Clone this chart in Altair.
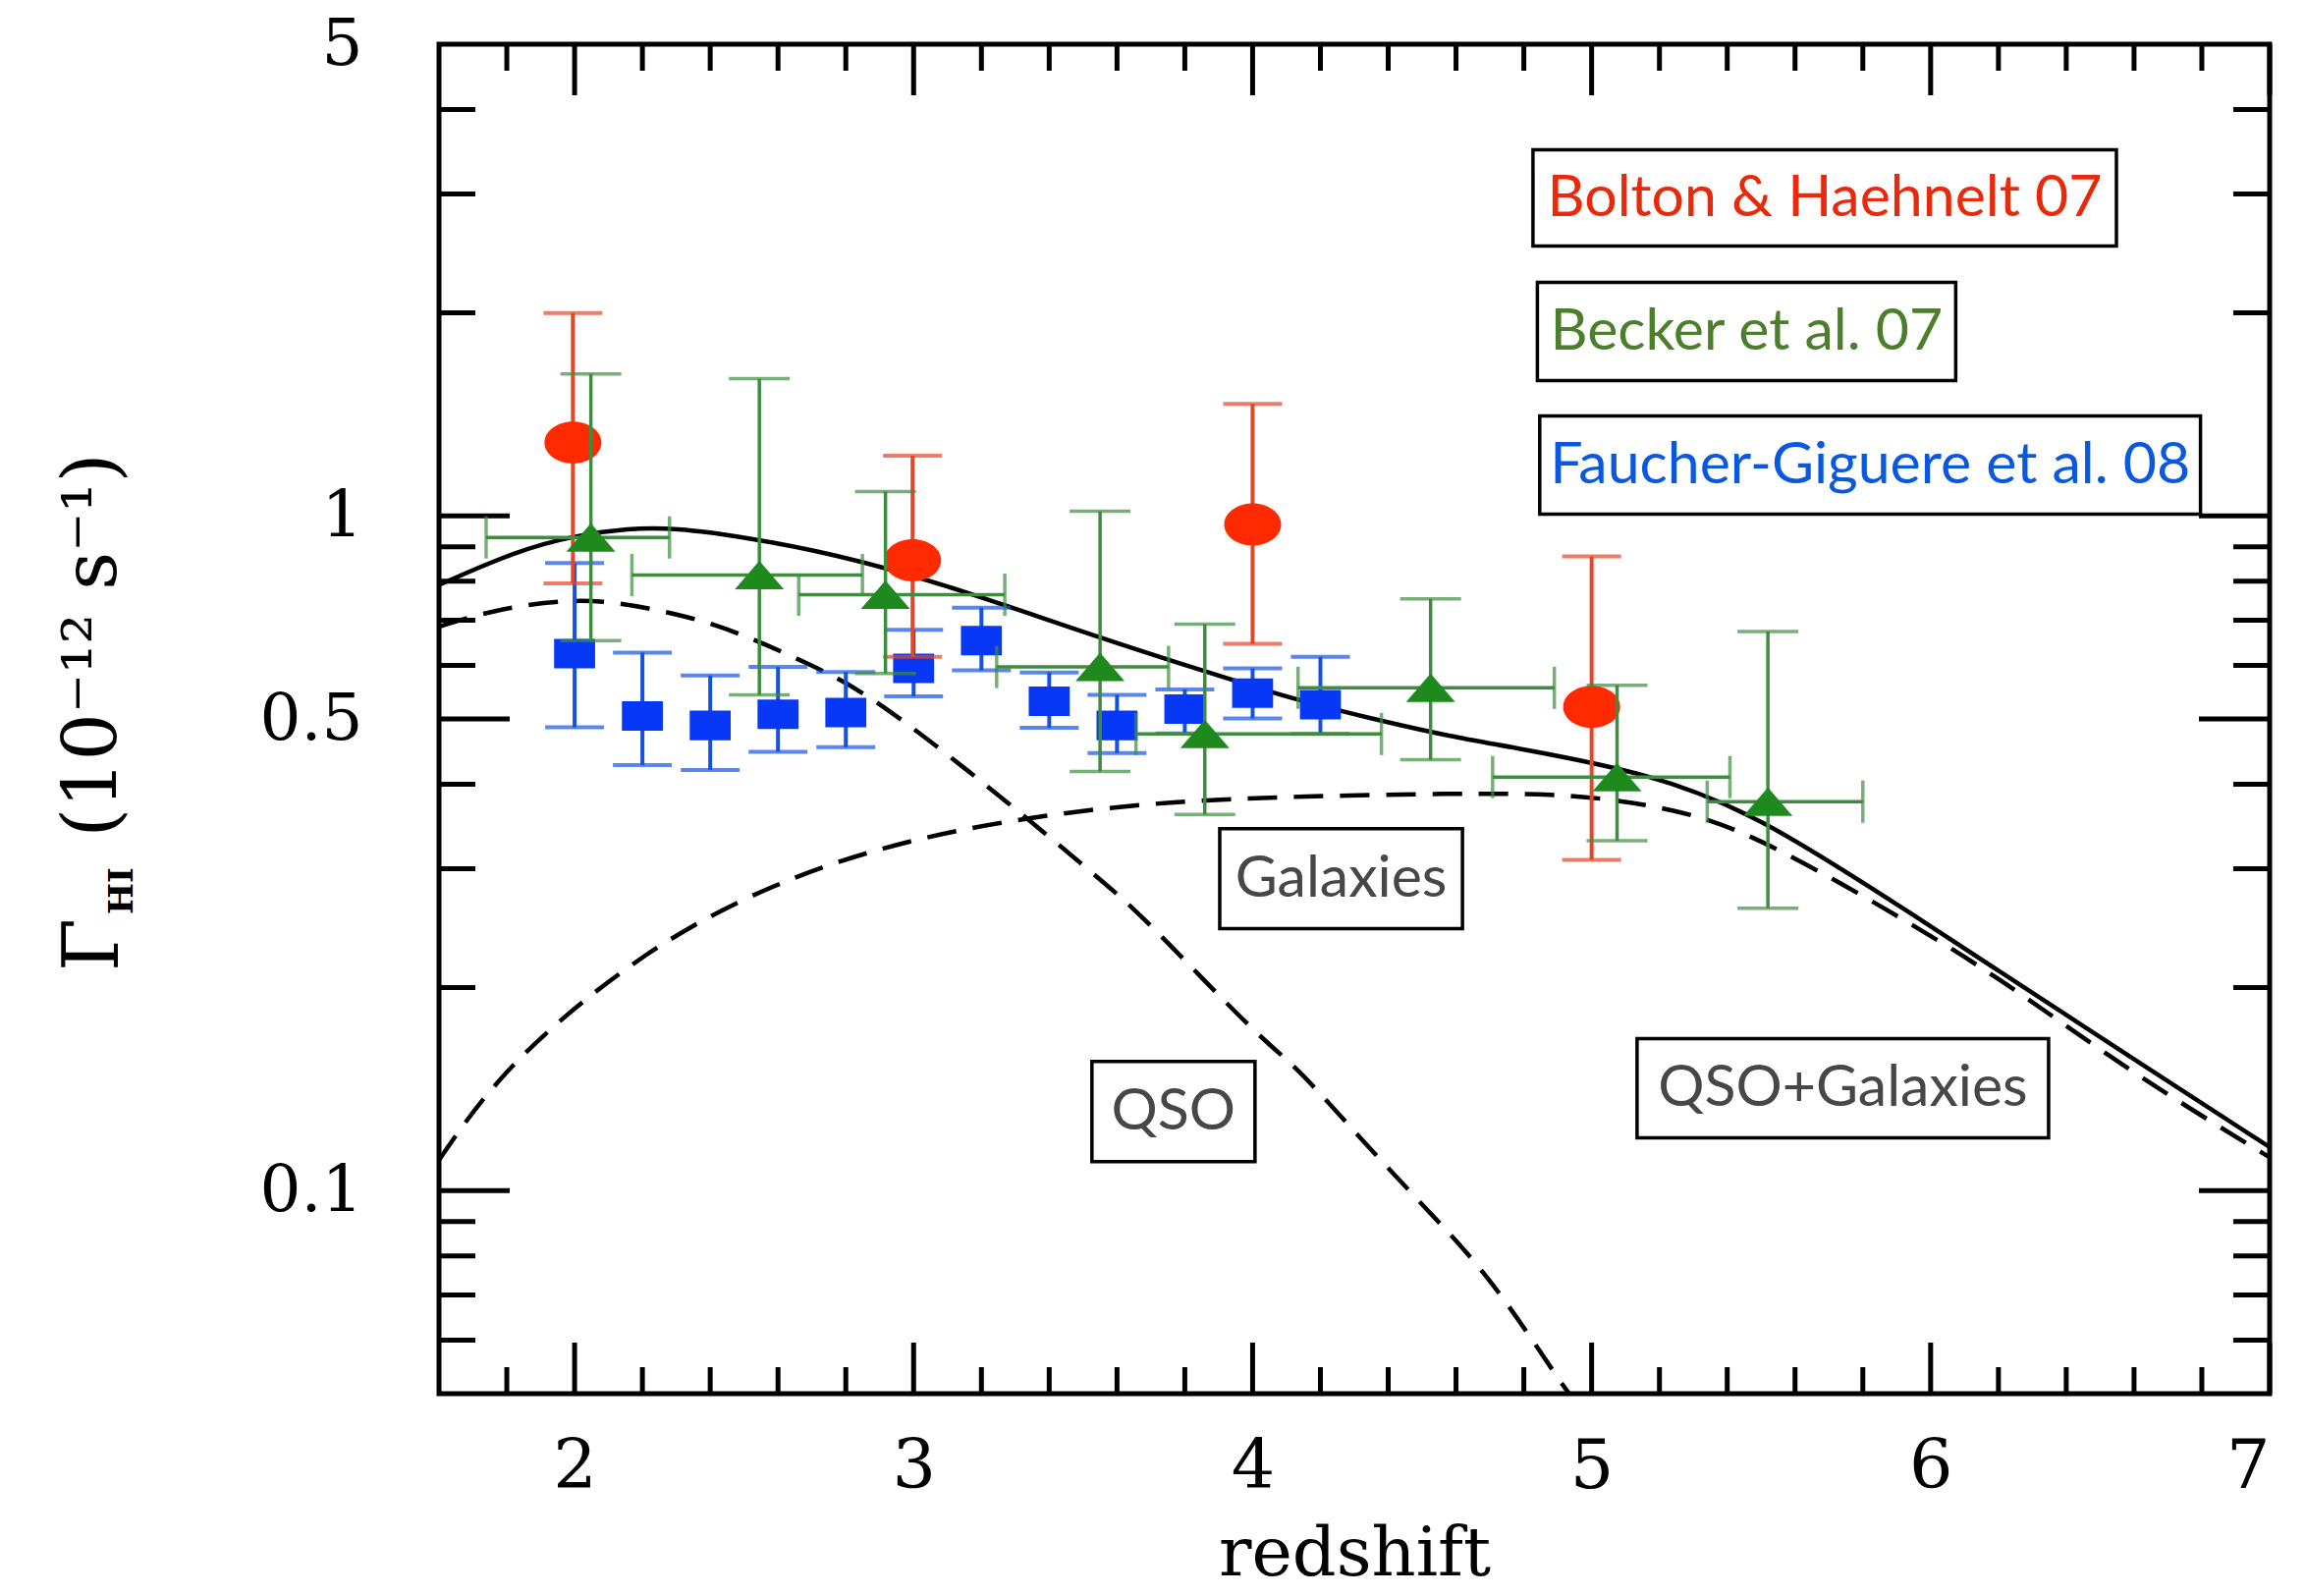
import altair as alt
import pandas as pd

# ---------------- data ----------------
# Bolton & Haehnelt 07 (red circles)
bh_z = [1.995, 2.997, 4.0, 5.0]
bh_g = [1.284, 0.859, 0.971, 0.521]
bh_lo = [0.794, 0.618, 0.646, 0.309]
bh_hi = [1.997, 1.228, 1.465, 0.871]

# Becker et al. 07 (green triangles)
bk_z = [2.048, 2.545, 2.917, 3.55, 3.859, 4.525, 5.075, 5.52]
bk_g = [0.929, 0.817, 0.764, 0.597, 0.475, 0.556, 0.410, 0.377]
bk_lo = [0.653, 0.543, 0.584, 0.418, 0.361, 0.435, 0.330, 0.262]
bk_hi = [1.623, 1.597, 1.086, 1.016, 0.691, 0.753, 0.561, 0.674]
bk_zlo = [1.739, 2.169, 2.661, 3.245, 3.656, 4.134, 4.708, 5.341]
bk_zhi = [2.28, 2.849, 3.269, 3.752, 4.38, 4.89, 5.408, 5.8]

# Faucher-Giguere et al. 08 (blue squares)
fg_z = [2.0, 2.2, 2.4, 2.6, 2.8, 3.0, 3.2, 3.4, 3.6, 3.8, 4.0, 4.2]
fg_g = [0.625, 0.505, 0.489, 0.508, 0.511, 0.594, 0.653, 0.531, 0.489, 0.517, 0.546, 0.525]
fg_lo = [0.486, 0.427, 0.420, 0.447, 0.454, 0.540, 0.590, 0.485, 0.445, 0.476, 0.501, 0.475]
fg_hi = [0.851, 0.627, 0.580, 0.597, 0.587, 0.678, 0.731, 0.586, 0.543, 0.553, 0.594, 0.618]

# model curves
tot_z = [1.6, 1.831, 2.0, 2.159, 2.294, 2.507, 2.757, 3.086, 3.496, 3.859, 4.013, 4.148,
         4.361, 4.592, 4.746, 5.181, 5.491, 5.867, 6.681, 7.0]
tot_g = [0.79, 0.888, 0.935, 0.958, 0.960, 0.929, 0.880, 0.794, 0.673, 0.588, 0.556, 0.531,
         0.499, 0.470, 0.456, 0.415, 0.359, 0.273, 0.147, 0.116]

qso_z = [1.6, 1.762, 1.965, 2.121, 2.333, 2.48, 2.7, 2.892, 3.328, 3.569, 3.68,
         4.021, 4.123, 4.314, 4.53, 4.703, 4.918, 4.935]
qso_g = [0.685, 0.726, 0.751, 0.747, 0.710, 0.673, 0.601, 0.537, 0.359, 0.284, 0.254,
         0.168, 0.154, 0.120, 0.0919, 0.0743, 0.0511, 0.05]

gal_z = [1.6, 1.796, 2.203, 2.572, 2.942, 3.348, 3.762, 4.148, 4.592, 4.9, 5.075, 5.23,
         5.452, 5.867, 6.197, 6.586, 7.0]
gal_g = [0.111, 0.154, 0.227, 0.284, 0.328, 0.359, 0.378, 0.384, 0.388, 0.387, 0.379, 0.368,
         0.343, 0.262, 0.208, 0.150, 0.112]

# axis ticks
x_major = [2, 3, 4, 5, 6, 7]
x_minor = [1.8, 2.2, 2.4, 2.6, 2.8, 3.2, 3.4, 3.6, 3.8, 4.2, 4.4, 4.6, 4.8,
           5.2, 5.4, 5.6, 5.8, 6.2, 6.4, 6.6, 6.8]
y_labels = [0.1, 0.5, 1, 5]
y_major = [0.1, 0.5, 1]
y_minor = [0.06, 0.07, 0.08, 0.09, 0.2, 0.3, 0.4, 0.6, 0.7, 0.8, 0.9, 2, 3, 4]

# annotation boxes (data coordinates) and their texts
box_text = ["Bolton & Haehnelt 07", "Becker et al. 07", "Faucher-Giguere et al. 08",
            "Galaxies", "QSO", "QSO+Galaxies"]
box_z1 = [4.827, 4.840, 4.847, 3.903, 3.526, 5.134]
box_z2 = [6.548, 6.074, 6.796, 4.619, 4.007, 6.348]
box_g1 = [2.510, 1.586, 1.0054, 0.2444, 0.1104, 0.1197]
box_g2 = [3.487, 2.218, 1.406, 0.3439, 0.1554, 0.1679]
box_color = ["#E8290B", "#4C7E2C", "#0A58DE", "#474747", "#474747", "#474747"]

# ---------------- chart ----------------
W, H = 1864, 1374
SERIF = "DejaVu Serif"
SANS = "Lato"

xs = alt.Scale(domain=[1.6, 7.0], nice=False, zero=False)
ys = alt.Scale(type="log", domain=[0.05, 5], nice=False)
xaxis = alt.Axis(values=x_major, format="d", grid=False, ticks=False, domain=False,
                 labelFont=SERIF, labelFontSize=70, labelColor="black",
                 labelPadding=40, titleFont=SERIF, titleFontSize=70,
                 titleFontWeight="normal", titleColor="black", titlePadding=20)
yaxis = alt.Axis(values=y_labels, format="~g", grid=False, ticks=False, domain=False,
                 labelFont=SERIF, labelFontSize=66, labelColor="black",
                 labelPadding=78, labelFlush=False)

X = lambda f="z": alt.X(f"{f}:Q", scale=xs, axis=xaxis, title="redshift")
Y = lambda f="g": alt.Y(f"{f}:Q", scale=ys, axis=yaxis, title=None)

bh = pd.DataFrame(dict(z=bh_z, g=bh_g, lo=bh_lo, hi=bh_hi))
bk = pd.DataFrame(dict(z=bk_z, g=bk_g, lo=bk_lo, hi=bk_hi, zlo=bk_zlo, zhi=bk_zhi))
fg = pd.DataFrame(dict(z=fg_z, g=fg_g, lo=fg_lo, hi=fg_hi))

TW = 5
def hticks(vals, L):
    d = pd.DataFrame(dict(z=vals))
    bot = alt.Chart(d).mark_rule(color="black", strokeWidth=TW).encode(
        x=X(), y=alt.value(H), y2=alt.value(H - L))
    top = alt.Chart(d).mark_rule(color="black", strokeWidth=TW).encode(
        x=X(), y=alt.value(0), y2=alt.value(L))
    return bot + top

def vticks(vals, L):
    d = pd.DataFrame(dict(g=vals))
    lft = alt.Chart(d).mark_rule(color="black", strokeWidth=TW).encode(
        y=Y(), x=alt.value(0), x2=alt.value(L))
    rgt = alt.Chart(d).mark_rule(color="black", strokeWidth=TW).encode(
        y=Y(), x=alt.value(W), x2=alt.value(W - L))
    return lft + rgt

ticks = hticks(x_major, 52) + hticks(x_minor, 27) + vticks(y_major, 72) + vticks(y_minor, 37)

def curve(zv, gv, dash=None):
    d = pd.DataFrame(dict(z=zv, g=gv))
    kw = dict(color="black", strokeWidth=4.5, interpolate="basis", clip=True)
    if dash:
        kw["strokeDash"] = dash
    return alt.Chart(d).mark_line(**kw).encode(x=X(), y=Y(), order="z:Q")

curves = curve(tot_z, tot_g) + curve(qso_z, qso_g, [30, 17]) + curve(gal_z, gal_g, [30, 17])

def vbars(df, color, cap, sw):
    r = alt.Chart(df).mark_rule(color=color, strokeWidth=sw).encode(x=X(), y=Y("lo"), y2="hi:Q")
    c1 = alt.Chart(df).mark_tick(color=color, orient="horizontal", size=cap, thickness=sw).encode(x=X(), y=Y("lo"))
    c2 = alt.Chart(df).mark_tick(color=color, orient="horizontal", size=cap, thickness=sw).encode(x=X(), y=Y("hi"))
    return r + c1 + c2

def hbars(df, color, cap, sw):
    r = alt.Chart(df).mark_rule(color=color, strokeWidth=sw).encode(x=X("zlo"), x2="zhi:Q", y=Y())
    c1 = alt.Chart(df).mark_tick(color=color, orient="vertical", size=cap, thickness=sw).encode(x=X("zlo"), y=Y())
    c2 = alt.Chart(df).mark_tick(color=color, orient="vertical", size=cap, thickness=sw).encode(x=X("zhi"), y=Y())
    return r + c1 + c2

ELLIPSE = "M-1,0A1,0.74,0,1,1,1,0A1,0.74,0,1,1,-1,0Z"
TRI = "M-1,0.58L1,0.58L0,-0.58Z"
RECT = "M-1,-0.72L1,-0.72L1,0.72L-1,0.72Z"

blue_pts = alt.Chart(fg).mark_point(shape=RECT, filled=True, opacity=1, color="#0638F5", size=1740).encode(x=X(), y=Y())
red_pts = alt.Chart(bh).mark_point(shape=ELLIPSE, filled=True, opacity=1, color="#FF2A00", size=3364).encode(x=X(), y=Y())
green_pts = alt.Chart(bk).mark_point(shape=TRI, filled=True, opacity=1, color="#1E8A1E", size=2500).encode(x=X(), y=Y())

blue = vbars(fg, "#1552E2", 60, 4) + blue_pts
red = vbars(bh, "#E2472A", 60, 4) + red_pts
green = vbars(bk, "#3F8B3F", 62, 3.5) + hbars(bk, "#3F8B3F", 43, 3.5) + green_pts

boxes_df = pd.DataFrame(dict(t=box_text, z1=box_z1, z2=box_z2, g1=box_g1, g2=box_g2, c=box_color))
boxes_df["zc"] = [(a + b) / 2 for a, b in zip(box_z1, box_z2)]
boxes_df["gc"] = [(a * b) ** 0.5 for a, b in zip(box_g1, box_g2)]
boxes = alt.Chart(boxes_df).mark_rect(fill="white", stroke="black", strokeWidth=3.5).encode(
    x=X("z1"), x2="z2:Q", y=Y("g1"), y2="g2:Q")
box_txt = alt.Chart(boxes_df).mark_text(font=SANS, fontSize=59, baseline="middle", align="center").encode(
    x=X("zc"), y=Y("gc"), text="t:N", color=alt.Color("c:N", scale=None))

# y-axis title pieces
one = pd.DataFrame(dict(k=[0]))
ytitle = (
    alt.Chart(one).mark_text(text="Γ", font=SERIF, fontSize=78, angle=270, align="center",
                             baseline="middle", color="black").encode(x=alt.value(-350), y=alt.value(917))
    + alt.Chart(one).mark_text(text="HI", font=SERIF, fontSize=34, fontWeight="bold", angle=270, align="center",
                               baseline="middle", color="black").encode(x=alt.value(-322), y=alt.value(862))
    + alt.Chart(one).mark_text(text="(10⁻¹² s⁻¹)", font=SERIF, fontSize=76, angle=270, align="center",
                               baseline="middle", color="black").encode(x=alt.value(-352), y=alt.value(612))
)

chart = alt.layer(ticks, curves, blue, red, green, boxes, box_txt, ytitle).properties(
    width=W, height=H,
    padding={"left": 447, "top": 45, "right": 36, "bottom": 206},
    autosize=alt.AutoSizeParams(type="none"),
    background="white",
).configure_view(stroke="black", strokeWidth=5)

chart.save("out.html", embed_options={"renderer": "svg", "actions": False})
